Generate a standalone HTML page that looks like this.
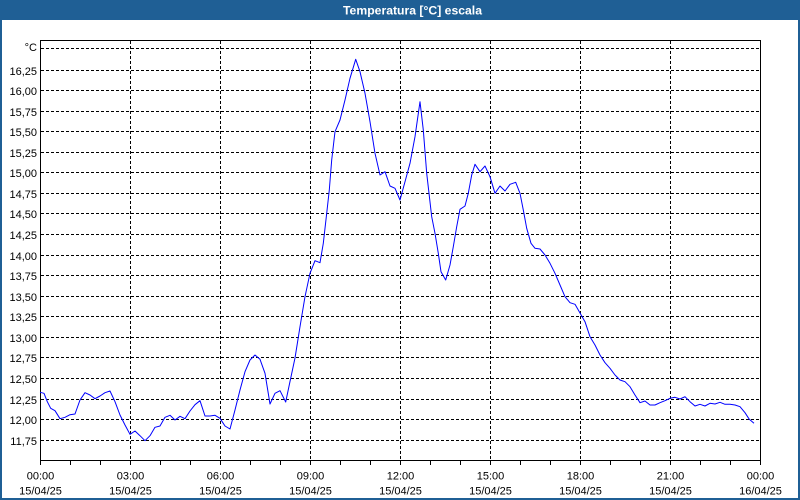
<!DOCTYPE html>
<html><head><meta charset="utf-8"><style>
html,body{margin:0;padding:0;background:#fff;}
svg{display:block;}
text{font-family:"Liberation Sans",sans-serif;font-size:11px;fill:#000;}
</style></head><body>
<svg width="800" height="500" viewBox="0 0 800 500" xmlns="http://www.w3.org/2000/svg">
<rect x="0" y="0" width="800" height="500" fill="#ffffff"/>
<rect x="0" y="0" width="800" height="20" fill="#1f5f95"/>
<rect x="0" y="20" width="2" height="480" fill="#1f5f95"/>
<rect x="798" y="20" width="2" height="480" fill="#1f5f95"/>
<rect x="0" y="498" width="800" height="2" fill="#1f5f95"/>
<text x="343" y="14.5" style="font-weight:bold;font-size:12px;fill:#fff" textLength="139" lengthAdjust="spacingAndGlyphs">Temperatura [°C] escala</text>

<g stroke="#000" stroke-width="1" stroke-dasharray="3,2" shape-rendering="crispEdges" fill="none">
<line x1="41" y1="48.5" x2="760" y2="48.5"/>
<line x1="41" y1="70.5" x2="760" y2="70.5"/>
<line x1="41" y1="90.5" x2="760" y2="90.5"/>
<line x1="41" y1="111.5" x2="760" y2="111.5"/>
<line x1="41" y1="131.5" x2="760" y2="131.5"/>
<line x1="41" y1="152.5" x2="760" y2="152.5"/>
<line x1="41" y1="172.5" x2="760" y2="172.5"/>
<line x1="41" y1="193.5" x2="760" y2="193.5"/>
<line x1="41" y1="213.5" x2="760" y2="213.5"/>
<line x1="41" y1="234.5" x2="760" y2="234.5"/>
<line x1="41" y1="255.5" x2="760" y2="255.5"/>
<line x1="41" y1="275.5" x2="760" y2="275.5"/>
<line x1="41" y1="296.5" x2="760" y2="296.5"/>
<line x1="41" y1="316.5" x2="760" y2="316.5"/>
<line x1="41" y1="337.5" x2="760" y2="337.5"/>
<line x1="41" y1="357.5" x2="760" y2="357.5"/>
<line x1="41" y1="378.5" x2="760" y2="378.5"/>
<line x1="41" y1="399.5" x2="760" y2="399.5"/>
<line x1="41" y1="419.5" x2="760" y2="419.5"/>
<line x1="41" y1="440.5" x2="760" y2="440.5"/>
<line x1="130.5" y1="41" x2="130.5" y2="460"/>
<line x1="220.5" y1="41" x2="220.5" y2="460"/>
<line x1="310.5" y1="41" x2="310.5" y2="460"/>
<line x1="400.5" y1="41" x2="400.5" y2="460"/>
<line x1="490.5" y1="41" x2="490.5" y2="460"/>
<line x1="580.5" y1="41" x2="580.5" y2="460"/>
<line x1="670.5" y1="41" x2="670.5" y2="460"/>
</g>

<g stroke="#000" stroke-width="1" shape-rendering="crispEdges" fill="none">
<rect x="40.5" y="40.5" width="720" height="420"/>
<path d="M40.5 460V465M70.5 460V465M100.5 460V465M130.5 460V465M160.5 460V465M190.5 460V465M220.5 460V465M250.5 460V465M280.5 460V465M310.5 460V465M340.5 460V465M370.5 460V465M400.5 460V465M430.5 460V465M460.5 460V465M490.5 460V465M520.5 460V465M550.5 460V465M580.5 460V465M610.5 460V465M640.5 460V465M670.5 460V465M700.5 460V465M730.5 460V465M760.5 460V465"/>
</g>

<polyline fill="none" stroke="#0000ff" stroke-width="1" stroke-linejoin="round" points="40,392.3 44,393.3 47.3,401.7 50.7,408.3 55,410.7 60,418.7 65,417.3 70,414.7 75,414 80,400 85,392.7 90,395 95,398.7 100,396 105,392.7 110,391 115,401.7 120,415 125,425 130,434.3 135,431 140,435.7 145,440.7 150,435.7 155,427.3 160,426 165,417.3 170,415.3 175,420 180,416.3 185,418.7 190,411 195,404.7 200,400.7 205,416 210,416 215,415.3 220,418.3 225,426 230,429 235,410 240,390 245,371.7 250,360 255,355 260,359.3 265,373.3 270,404 275,393.3 280,390.7 285.7,402 290,381.5 295,358 300,326.7 305,296.7 310,273.3 315,260.7 320,262.7 323.3,243.3 326.7,213.3 329.3,190 331.7,160 335,131.7 340,120 345,100 350,78.3 355.7,59.3 360,71.7 365,93.3 370,121.7 375,153.3 380,175 385,171.7 390,186 395,188.3 400,200 405,181.7 410,163.3 415,136.7 420,101.7 423.3,130 426.7,173.3 431.7,216.7 435,233.3 438.3,253.3 441,271.7 445.7,280 450,265 453.3,246.7 456.7,226.7 460,209.3 465,206 468.3,193.3 471.7,175 475,164.3 480,171.7 485,166 490,176.7 495,193.3 500,186 505,191 510,184.3 515.7,182.3 520,193.3 523.3,210 526.7,228.3 531,243.3 535,248.3 540,249 545,255 550,263.3 555,273.3 560,285 565,296.7 570,302.7 575,304.3 580,313 585,321.7 590,336.7 595,345 600,355 605,362.7 610,368.3 615,375 620,380 625,381.7 630,386.7 635,395 640,402.7 645,401 650,405 655,405 660,402.7 665,400.7 670,398.3 675,397.3 680,399 685,396.7 690,401.7 695,406 700,404.3 705,406 710,403.3 715,404 720,402.3 725,404.3 730,404.3 735,405 740,406.7 745,412.7 749.3,419.3 754,423.3"/>

<g text-anchor="end">
<text x="37" y="51">°C</text>
<text x="37" y="75">16,25</text>
<text x="37" y="95">16,00</text>
<text x="37" y="116">15,75</text>
<text x="37" y="136">15,50</text>
<text x="37" y="157">15,25</text>
<text x="37" y="177">15,00</text>
<text x="37" y="198">14,75</text>
<text x="37" y="218">14,50</text>
<text x="37" y="239">14,25</text>
<text x="37" y="260">14,00</text>
<text x="37" y="280">13,75</text>
<text x="37" y="301">13,50</text>
<text x="37" y="321">13,25</text>
<text x="37" y="342">13,00</text>
<text x="37" y="362">12,75</text>
<text x="37" y="383">12,50</text>
<text x="37" y="404">12,25</text>
<text x="37" y="424">12,00</text>
<text x="37" y="445">11,75</text>
</g>

<g text-anchor="middle">
<text x="40.5" y="479.5">00:00</text><text x="40.5" y="494.5">15/04/25</text>
<text x="130.5" y="479.5">03:00</text><text x="130.5" y="494.5">15/04/25</text>
<text x="220.5" y="479.5">06:00</text><text x="220.5" y="494.5">15/04/25</text>
<text x="310.5" y="479.5">09:00</text><text x="310.5" y="494.5">15/04/25</text>
<text x="400.5" y="479.5">12:00</text><text x="400.5" y="494.5">15/04/25</text>
<text x="490.5" y="479.5">15:00</text><text x="490.5" y="494.5">15/04/25</text>
<text x="580.5" y="479.5">18:00</text><text x="580.5" y="494.5">15/04/25</text>
<text x="670.5" y="479.5">21:00</text><text x="670.5" y="494.5">15/04/25</text>
<text x="760.5" y="479.5">00:00</text><text x="760.5" y="494.5">16/04/25</text>
</g>
</svg>
</body></html>
